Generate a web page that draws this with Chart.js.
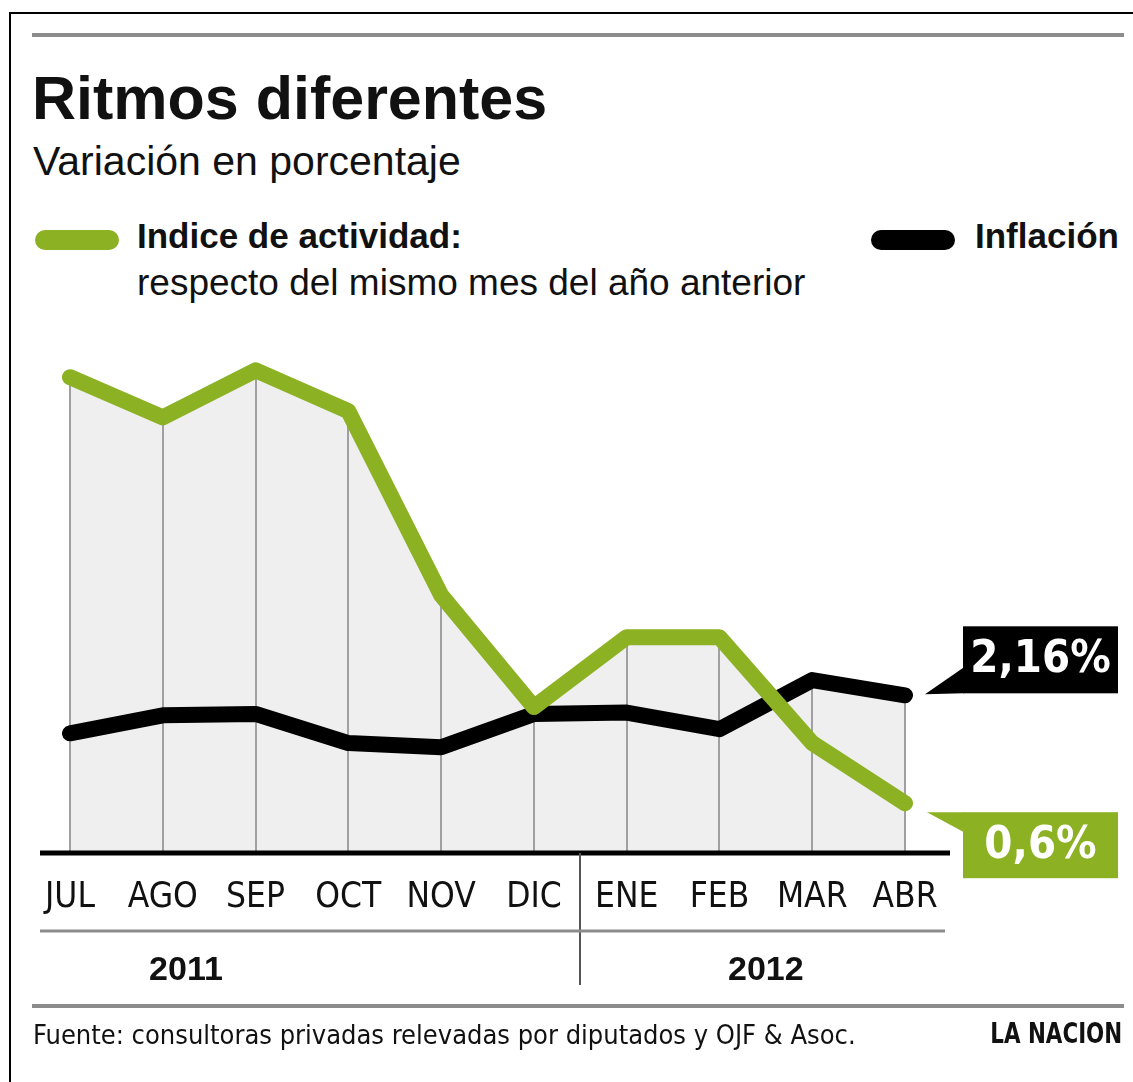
<!DOCTYPE html>
<html>
<head>
<meta charset="utf-8">
<script src="https://cdn.jsdelivr.net/npm/chart.js@4.4.0/dist/chart.umd.min.js"></script>
<style>
body { margin: 0; background: #fff; font-family: "Liberation Sans", Arial, sans-serif; }
#page { position: relative; width: 1133px; height: 1082px; overflow: hidden; }
#chart { position: absolute; left: 0; top: 0; }
.frame { position: absolute; left: 9px; top: 12px; width: 1140px; height: 1090px; border-top: 2px solid #000; border-left: 2px solid #000; }
.rule { position: absolute; left: 32px; width: 1092px; height: 4px; background: #8c8c8c; }
.t { position: absolute; white-space: nowrap; color: #111; line-height: 1; }
.pill { position: absolute; width: 84px; height: 20px; border-radius: 10px; }
.narrow { font-family: "Liberation Sans Narrow", "DejaVu Sans Condensed", sans-serif; }
</style>
</head>
<body>
<div id="page">
  <div class="frame"></div>
  <div class="rule" style="top:33px"></div>
  <div class="t" style="left:32px;top:68px;font-size:61px;font-weight:bold">Ritmos diferentes</div>
  <div class="t" style="left:33px;top:141px;font-size:41px">Variación en porcentaje</div>

  <div class="pill" style="left:35px;top:230px;background:#8cb224"></div>
  <div class="t" style="left:137px;top:218px;font-size:35px;font-weight:bold">Indice de actividad:</div>
  <div class="t" style="left:137px;top:264px;font-size:37px">respecto del mismo mes del año anterior</div>
  <div class="pill" style="left:871px;top:230px;background:#000"></div>
  <div class="t" style="left:975px;top:218px;font-size:35px;font-weight:bold">Inflación</div>

  <canvas id="chart" width="1133" height="1082"></canvas>

  <div class="rule" style="top:1004px"></div>
  <div class="t narrow" style="left:33px;top:1021px;font-size:27px">Fuente: consultoras privadas relevadas por diputados y OJF &amp; Asoc.</div>
  <div class="t narrow" style="right:11px;top:1020px;font-size:28px;font-weight:bold;transform:scaleX(0.85);transform-origin:right top">LA NACION</div>
</div>

<script>
// datos (variación %)
const meses = ['JUL', 'AGO', 'SEP', 'OCT', 'NOV', 'DIC', 'ENE', 'FEB', 'MAR', 'ABR'];
const actividad = [6.76, 6.18, 6.86, 6.27, 3.61, 1.99, 3.0, 3.0, 1.47, 0.6];
const inflacion = [1.61, 1.87, 1.89, 1.47, 1.41, 1.89, 1.91, 1.67, 2.38, 2.16];
const anios = ['2011', '2012'];
const etiquetas = ['2,16%', '0,6%'];

const verde = '#8cb224';
const gris = '#efefef';
const narrow = "'Liberation Sans Narrow', 'DejaVu Sans Condensed', sans-serif";

// cada linea vertical sube hasta la serie más alta
const tope = actividad.map((v, i) => Math.max(v, inflacion[i]));

const decoraciones = {
    id: 'decoraciones',
    beforeDatasetsDraw(chart) {
        const { ctx, scales: { x, y }, chartArea } = chart;
        ctx.save();
        ctx.strokeStyle = '#a0a0a0';
        ctx.lineWidth = 2;
        tope.forEach((v, i) => {
            const px = Math.round(x.getPixelForValue(i));
            ctx.beginPath();
            ctx.moveTo(px, y.getPixelForValue(v));
            ctx.lineTo(px, chartArea.bottom);
            ctx.stroke();
        });
        ctx.restore();
    },
    afterDraw(chart) {
        const { ctx, scales: { x, y }, chartArea } = chart;
        const base = chartArea.bottom;
        ctx.save();

        // linea base
        ctx.strokeStyle = '#000';
        ctx.lineWidth = 5;
        ctx.beginPath();
        ctx.moveTo(40, base);
        ctx.lineTo(950, base);
        ctx.stroke();

        // separador de años y regla gris
        const sep = Math.round((x.getPixelForValue(5) + x.getPixelForValue(6)) / 2);
        ctx.strokeStyle = '#555';
        ctx.lineWidth = 2;
        ctx.beginPath();
        ctx.moveTo(sep, base);
        ctx.lineTo(sep, 985);
        ctx.stroke();
        ctx.strokeStyle = '#8c8c8c';
        ctx.lineWidth = 3;
        ctx.beginPath();
        ctx.moveTo(40, 931);
        ctx.lineTo(945, 931);
        ctx.stroke();

        ctx.fillStyle = '#111';
        ctx.font = 'bold 34px "Liberation Sans", Arial, sans-serif';
        ctx.textAlign = 'center';
        ctx.textBaseline = 'middle';
        ctx.fillText(anios[0], x.getPixelForValue(1.25), 971);
        ctx.fillText(anios[1], x.getPixelForValue(7.5), 971);

        // recuadros con el último valor
        const xa = x.getPixelForValue(meses.length - 1);
        const yi = y.getPixelForValue(inflacion[inflacion.length - 1]);
        const ya = y.getPixelForValue(actividad[actividad.length - 1]);
        const bx = xa + 58, bw = 155;

        ctx.fillStyle = '#000';
        ctx.fillRect(bx, yi - 69, bw, 67);
        ctx.beginPath();
        ctx.moveTo(xa + 20, yi - 1);
        ctx.lineTo(bx + 1, yi - 28);
        ctx.lineTo(bx + 1, yi - 2);
        ctx.closePath();
        ctx.fill();

        ctx.fillStyle = verde;
        ctx.fillRect(bx, ya + 9, bw, 66);
        ctx.beginPath();
        ctx.moveTo(xa + 22, ya + 9);
        ctx.lineTo(bx + 1, ya + 9);
        ctx.lineTo(bx + 1, ya + 29);
        ctx.closePath();
        ctx.fill();

        ctx.fillStyle = '#fff';
        ctx.font = 'bold 45px ' + narrow;
        ctx.fillText(etiquetas[0], bx + bw / 2, yi - 35);
        ctx.fillText(etiquetas[1], bx + bw / 2, ya + 43);
        ctx.restore();
    }
};

new Chart(document.getElementById('chart'), {
    type: 'line',
    data: {
        labels: meses,
        datasets: [
            {
                label: 'Indice de actividad',
                data: actividad,
                borderColor: verde,
                backgroundColor: gris,
                borderWidth: 16,
                borderJoinStyle: 'round',
                borderCapStyle: 'round',
                pointRadius: 0,
                fill: 'start',
                order: 1
            },
            {
                label: 'Inflación',
                data: inflacion,
                borderColor: '#000',
                backgroundColor: gris,
                borderWidth: 16,
                borderJoinStyle: 'round',
                borderCapStyle: 'round',
                pointRadius: 0,
                fill: 'start',
                order: 2
            }
        ]
    },
    options: {
        responsive: false,
        animation: false,
        layout: { padding: { left: 70, right: 228, top: 326, bottom: 139 } },
        plugins: {
            legend: { display: false },
            tooltip: { enabled: false },
            filler: { drawTime: 'beforeDatasetsDraw' }
        },
        scales: {
            x: {
                grid: { display: false, drawTicks: false },
                border: { display: false },
                ticks: { color: '#111', padding: 24, font: { family: narrow, size: 35 } }
            },
            y: {
                display: false,
                min: -0.12,
                max: 7.5
            }
        }
    },
    plugins: [decoraciones]
});
</script>
</body>
</html>
